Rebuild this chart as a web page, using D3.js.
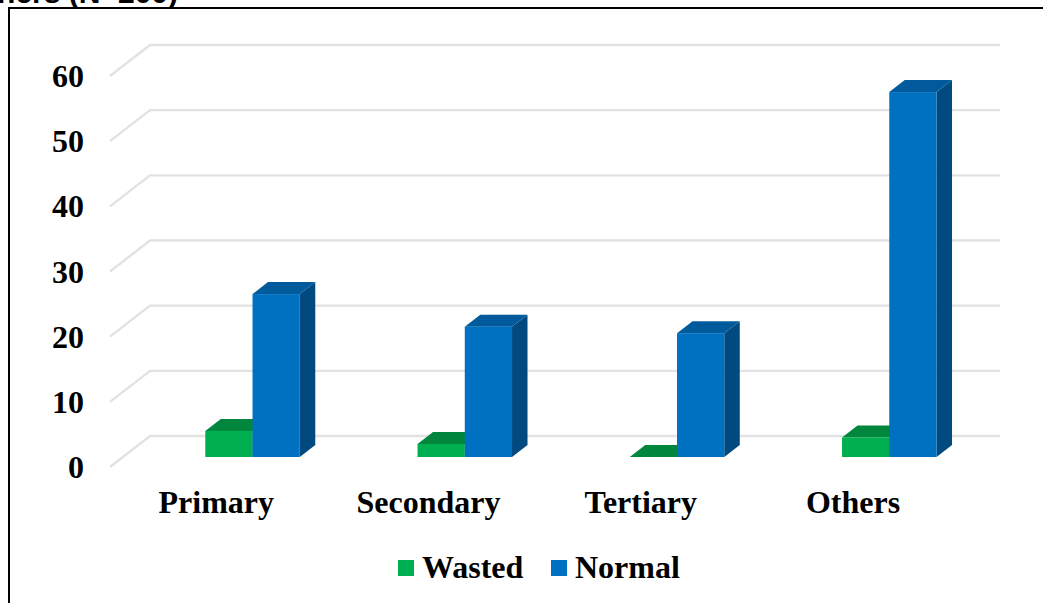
<!DOCTYPE html>
<html>
<head>
<meta charset="utf-8">
<script src="https://cdn.jsdelivr.net/npm/d3@7"></script>
<style>
  html, body { margin: 0; padding: 0; background: #fff; }
  svg { display: block; }
  text { font-family: "Liberation Serif", serif; font-weight: bold; fill: #000; }
</style>
</head>
<body>
<svg id="chart" width="1043" height="603"></svg>
<script>
const categories = ["Primary", "Secondary", "Tertiary", "Others"];
const seriesNames = ["Wasted", "Normal"];
const wasted = [4, 2, 0, 3];
const normal = [25, 20, 19, 56];
const tickValues = [0, 10, 20, 30, 40, 50, 60];

const colors = {
  Wasted: { front: "#00b050", top: "#00873d", side: "#00873d" },
  Normal: { front: "#0070c0", top: "#005a9b", side: "#004a80" }
};

const svg = d3.select("#chart");

// Caption line that runs above the frame and is cut by the page's top edge
svg.append("text").attr("x", 178).attr("y", 3)
  .attr("text-anchor", "end").attr("font-size", 30)
  .style("font-family", '"Liberation Sans", sans-serif')
  .text("ners (N=200)");

// Frame around the chart, running off the right and bottom of the page
svg.append("path")
  .attr("d", "M9,603V8H1043")
  .attr("fill", "none").attr("stroke", "#000").attr("stroke-width", 2);

// Scales for the front plane of the bars
const y = d3.scaleLinear().domain([0, 60]).range([457, 66]);
const x0 = d3.scaleBand().domain(categories).range([146.4, 995.4]);
const clusterWidth = 94.5;
const x1 = d3.scaleBand().domain(seriesNames).range([0, clusterWidth]);
const groupLeft = c => x0(c) + (x0.bandwidth() - clusterWidth) / 2;

// Depth offsets of the bars and of the floor
const barDepth = { dx: 15.5, dy: -12 };
const floorFront = { x: 110, dy: 10 };
const floorBack = { x: 150, dy: -21 };
const gridRight = 1000;

// Back-wall gridlines with their slanted floor returns
svg.append("g").selectAll("path").data(tickValues).join("path")
  .attr("fill", "none").attr("stroke", "#e2e2e2").attr("stroke-width", 2.4)
  .attr("d", v => {
    const p = d3.path();
    p.moveTo(floorFront.x, y(v) + floorFront.dy);
    p.lineTo(floorBack.x, y(v) + floorBack.dy);
    p.lineTo(gridRight, y(v) + floorBack.dy);
    return p.toString();
  });

// Value labels
svg.append("g").selectAll("text").data(tickValues).join("text")
  .attr("x", 84).attr("y", v => y(v) + 21)
  .attr("text-anchor", "end").attr("font-size", 32)
  .text(d => d);

// Draws one 3D column: side, top, then front face
function drawBar(g, left, width, value, c) {
  const top = y(value), base = y(0), { dx, dy } = barDepth;
  const poly = pts => pts.map(p => p.join(",")).join(" ");
  g.append("polygon").attr("fill", c.side)
    .attr("points", poly([[left + width, top], [left + width + dx, top + dy], [left + width + dx, base + dy], [left + width, base]]));
  g.append("polygon").attr("fill", c.top)
    .attr("points", poly([[left, top], [left + dx, top + dy], [left + width + dx, top + dy], [left + width, top]]));
  g.append("rect").attr("fill", c.front)
    .attr("x", left).attr("y", top).attr("width", width).attr("height", base - top);
}

const bars = svg.append("g");
categories.forEach((c, i) => {
  drawBar(bars, groupLeft(c) + x1("Wasted"), x1.bandwidth(), wasted[i], colors.Wasted);
  drawBar(bars, groupLeft(c) + x1("Normal"), x1.bandwidth(), normal[i], colors.Normal);
});

// Category labels
svg.append("g").selectAll("text").data(categories).join("text")
  .attr("x", c => groupLeft(c) + 11)
  .attr("y", 513).attr("text-anchor", "middle").attr("font-size", 32)
  .text(d => d);

// Legend
const legendItems = [
  { name: "Wasted", sx: 398, tx: 422 },
  { name: "Normal", sx: 551, tx: 575 }
];
const legend = svg.append("g");
legend.selectAll("rect").data(legendItems).join("rect")
  .attr("x", d => d.sx).attr("y", 560).attr("width", 16).attr("height", 16)
  .attr("fill", d => colors[d.name].front);
legend.selectAll("text").data(legendItems).join("text")
  .attr("x", d => d.tx).attr("y", 578).attr("font-size", 32)
  .text(d => d.name);
</script>
</body>
</html>
